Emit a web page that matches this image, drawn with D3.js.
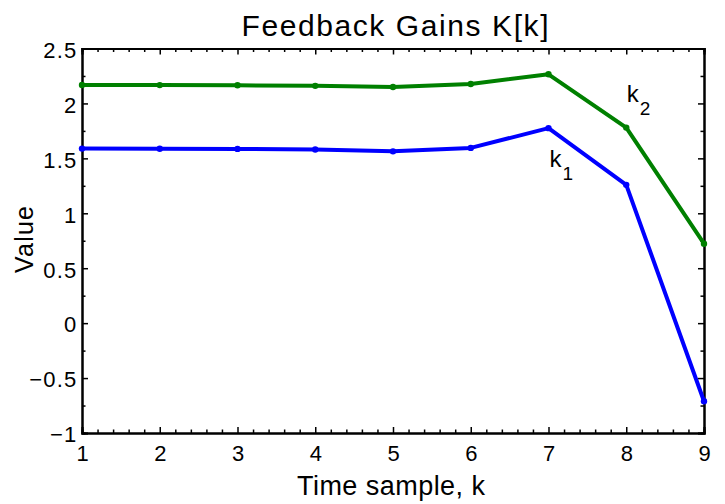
<!DOCTYPE html>
<html>
<head>
<meta charset="utf-8">
<script src="https://cdn.jsdelivr.net/npm/d3@7"></script>
<style>
  body { margin: 0; background: #fff; }
  text { font-family: "Liberation Sans", Arial, Helvetica, sans-serif; fill: #000; }
</style>
</head>
<body>
<div id="chart"></div>
<script>
// data
var samples = [1, 2, 3, 4, 5, 6, 7, 8, 9];
var k1 = [1.589, 1.588, 1.586, 1.580, 1.564, 1.595, 1.775, 1.259, -0.711];
var k2 = [2.168, 2.167, 2.165, 2.160, 2.150, 2.177, 2.265, 1.780, 0.723];
var xTicks = [1, 2, 3, 4, 5, 6, 7, 8, 9];
var yTicks = [-1, -0.5, 0, 0.5, 1, 1.5, 2, 2.5];

var width = 725, height = 504;
var margin = {top: 48.5, right: 21, bottom: 71, left: 82};
var w = width - margin.left - margin.right,
    h = height - margin.top - margin.bottom;

var svg = d3.select("#chart").append("svg")
    .attr("width", width)
    .attr("height", height);

var g = svg.append("g")
    .attr("transform", "translate(" + margin.left + "," + margin.top + ")");

var x = d3.scaleLinear().domain([1, 9]).range([0, w]);
var y = d3.scaleLinear().domain([-1, 2.5]).range([h, 0]);

// minor ticks (matlab style)
var xMinor = d3.range(1, 9.001, 0.2).filter(function(d) { return Math.abs(d - Math.round(d)) > 1e-6; });
var yMinor = d3.range(-0.75, 2.5, 0.5);

function tickFmt(d) { return d < 0 ? "\u2212" + Math.abs(d) : String(d); }

// bottom axis
g.append("g").attr("class", "xlab").attr("transform", "translate(0," + h + ")")
    .call(d3.axisBottom(x).tickValues(xTicks).tickSize(-6).tickPadding(12).tickFormat(tickFmt));
g.append("g").attr("transform", "translate(0," + h + ")")
    .call(d3.axisBottom(x).tickValues(xMinor).tickSize(-3.5).tickFormat(""));
// top axis
g.append("g")
    .call(d3.axisTop(x).tickValues(xTicks).tickSize(-6).tickFormat(""));
g.append("g")
    .call(d3.axisTop(x).tickValues(xMinor).tickSize(-3.5).tickFormat(""));
// left axis
g.append("g").attr("class", "ylab")
    .call(d3.axisLeft(y).tickValues(yTicks).tickSize(-6).tickPadding(4.5).tickFormat(tickFmt));
g.append("g")
    .call(d3.axisLeft(y).tickValues(yMinor).tickSize(-3.5).tickFormat(""));
// right axis
g.append("g").attr("transform", "translate(" + w + ",0)")
    .call(d3.axisRight(y).tickValues(yTicks).tickSize(-6).tickFormat(""));
g.append("g").attr("transform", "translate(" + w + ",0)")
    .call(d3.axisRight(y).tickValues(yMinor).tickSize(-3.5).tickFormat(""));

g.selectAll(".domain").attr("stroke", "#000").attr("stroke-width", 2);
g.selectAll(".tick line").attr("stroke", "#000").attr("stroke-width", 1.5);
g.selectAll(".tick text")
    .attr("font-size", 22)
    .style("font-size", "22px")
    .style("letter-spacing", "1.2px")
    .attr("fill", "#000")
    .style("font-family", "'Liberation Sans', Arial, sans-serif");
g.selectAll(".ylab .tick text").attr("dy", "0.4em");
g.selectAll(".xlab .tick text").attr("dx", "0.6px");

// lines
var line = d3.line()
    .x(function(d, i) { return x(samples[i]); })
    .y(function(d) { return y(d); });

var series = [
  {values: k2, color: "#008000"},
  {values: k1, color: "#0000ff"}
];

series.forEach(function(s) {
  g.append("path")
      .datum(s.values)
      .attr("d", line)
      .attr("fill", "none")
      .attr("stroke", s.color)
      .attr("stroke-width", 4)
      .attr("stroke-linejoin", "round");
  g.selectAll(null)
      .data(s.values)
      .enter()
      .append("circle")
      .attr("cx", function(d, i) { return x(samples[i]); })
      .attr("cy", function(d) { return y(d); })
      .attr("r", 3.2)
      .attr("fill", s.color);
});

// series labels
function subLabel(tx, ty, sub) {
  var t = g.append("text")
      .attr("x", tx)
      .attr("y", ty)
      .style("font-size", "24px");
  t.append("tspan").text("k");
  t.append("tspan").attr("dx", 1).attr("dy", 13).style("font-size", "19px").text(sub);
}
subLabel(x(8) + 0.5, y(2.016), "2");
subLabel(x(7) + 1, y(1.425), "1");

// title and axis labels
svg.append("text")
    .attr("x", 241.5)
    .attr("y", 36)
    .attr("textLength", 307)
    .attr("lengthAdjust", "spacing")
    .style("font-size", "30px")
    .text("Feedback Gains K[k]");

svg.append("text")
    .attr("x", 297)
    .attr("y", 495)
    .attr("textLength", 188)
    .attr("lengthAdjust", "spacing")
    .style("font-size", "27px")
    .text("Time sample, k");

svg.append("text")
    .attr("transform", "translate(33,273) rotate(-90)")
    .attr("textLength", 67)
    .attr("lengthAdjust", "spacing")
    .style("font-size", "25px")
    .text("Value");
</script>
</body>
</html>
